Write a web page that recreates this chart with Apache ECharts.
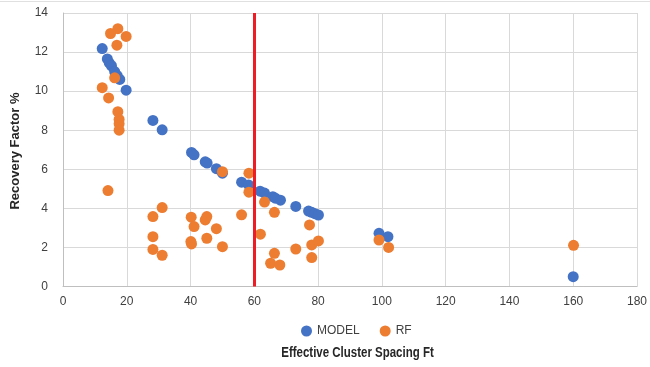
<!DOCTYPE html>
<html>
<head>
<meta charset="utf-8">
<script src="https://cdn.jsdelivr.net/npm/echarts@6/dist/echarts.min.js"></script>
<style>
html,body{margin:0;padding:0;background:#fff;}
#c{width:650px;height:367px;}
</style>
</head>
<body>
<div id="c"></div>
<script>
const seriesNames = ['MODEL', 'RF'];
const modelData = [
  [12.3,12.18],[13.9,11.65],[14.5,11.45],[15.2,11.3],[16.2,11.0],[17.0,10.8],[17.8,10.6],[19.8,10.05],
  [28.2,8.5],[31.1,8.02],[40.3,6.86],[41.1,6.74],[44.6,6.38],[45.2,6.32],[48.1,6.03],[50.0,5.8],
  [56.0,5.34],[58.2,5.2],[61.8,4.88],[63.2,4.78],[65.8,4.6],[66.6,4.52],[68.2,4.42],[73.0,4.1],
  [77.0,3.86],[78.0,3.8],[79.0,3.73],[80.1,3.66],[99.1,2.72],[101.9,2.55],[160,0.5]
];
const rfData = [
  [17.2,13.2],[14.9,12.95],[19.8,12.8],[16.9,12.35],[16.2,10.68],[12.3,10.18],[14.3,9.65],[17.2,8.95],
  [17.6,8.55],[17.6,8.33],[17.6,8.0],[14.1,4.91],[31.1,4.04],[28.2,3.58],[28.2,2.55],[28.2,1.9],
  [31.1,1.6],[40.2,3.55],[41.1,3.07],[40.1,2.3],[40.3,2.18],[44.6,3.41],[45.1,3.58],[45.1,2.47],
  [48.1,2.96],[50.0,2.04],[50.0,5.88],[56.0,3.67],[58.3,5.8],[58.3,4.83],[61.9,2.68],[63.2,4.32],
  [66.3,3.8],[66.3,1.7],[65.1,1.19],[68.0,1.1],[73.0,1.92],[77.3,3.15],[78.0,2.13],[80.1,2.33],
  [78.0,1.48],[99.1,2.38],[102.1,2.0],[160.1,2.11]
];
const cutoffX = 60;
const xAxisTitle = 'Effective Cluster Spacing Ft';
const yAxisTitle = 'Recovery Factor %';

const FONT = '"Liberation Sans", Arial, sans-serif';
const chart = echarts.init(document.getElementById('c'), null, {renderer: 'canvas'});
chart.setOption({
  animation: false,
  backgroundColor: '#fff',
  grid: {left: 63, right: 9, top: 13, bottom: 80.5},
  xAxis: {
    type: 'value', min: 0, max: 180, interval: 20,
    axisLine: {show: true, lineStyle: {color: '#bfbfbf', width: 1}},
    axisTick: {show: false},
    splitLine: {show: true, lineStyle: {color: '#d9d9d9', width: 1}},
    axisLabel: {color: '#404040', fontSize: 12, fontFamily: FONT, margin: 9}
  },
  yAxis: {
    type: 'value', min: 0, max: 14, interval: 2,
    axisLine: {show: true, lineStyle: {color: '#bfbfbf', width: 1}},
    axisTick: {show: false},
    splitLine: {show: true, lineStyle: {color: '#d9d9d9', width: 1}},
    axisLabel: {color: '#404040', fontSize: 12, fontFamily: FONT, margin: 15}
  },
  legend: {
    data: seriesNames,
    left: 296, top: 320,
    icon: 'circle', itemWidth: 11, itemHeight: 11, itemGap: 20,
    textStyle: {color: '#404040', fontSize: 12, fontFamily: FONT}
  },
  graphic: [
    {type: 'text', x: 357.5, y: 353, scaleX: 0.82,
     style: {text: xAxisTitle, font: 'bold 14px ' + FONT, fill: '#262626', align: 'center', verticalAlign: 'middle'}},
    {type: 'text', rotation: Math.PI/2, x: 15, y: 151,
     style: {text: yAxisTitle, font: 'bold 13px ' + FONT, fill: '#262626', align: 'center', verticalAlign: 'middle'}},
    {type: 'line', shape: {x1: 0, y1: 1.5, x2: 650, y2: 1.5}, style: {stroke: '#e0e0e0', lineWidth: 1}, silent: true}
  ],
  series: [
    {name: 'MODEL', type: 'scatter', data: modelData, symbolSize: 11,
     itemStyle: {color: '#4472C4', opacity: 1},
     markLine: {silent: true, symbol: 'none', label: {show: false},
       lineStyle: {color: '#EE1C25', width: 3, type: 'solid'},
       data: [{xAxis: cutoffX}]}},
    {name: 'RF', type: 'scatter', data: rfData, symbolSize: 11,
     itemStyle: {color: '#ED7D31', opacity: 1}}
  ]
});
</script>
</body>
</html>
